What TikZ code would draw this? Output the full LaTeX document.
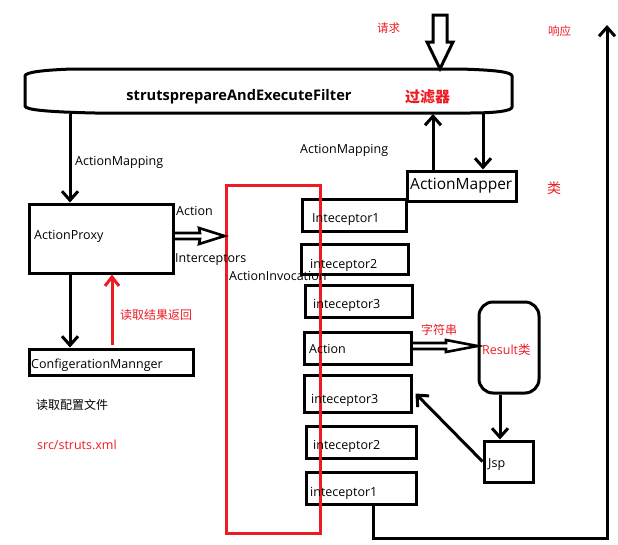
\documentclass[tikz,border=0pt]{standalone}
\usepackage{fontspec}
\setmainfont{Open Sans}
\newfontfamily\cjk{Noto Sans CJK SC}
\usetikzlibrary{arrows.meta}
\definecolor{pred}{HTML}{ED1C24}
\tikzset{
  box/.style={draw, line width=3pt, inner sep=0pt},
  lbl/.style={anchor=west, inner sep=0pt, font=\fontsize{12.5}{14}\selectfont},
  rlbl/.style={lbl, text=pred},
  arr/.style={line width=3pt, -{Straight Barb[length=9pt,width=16pt]}},
  redarr/.style={line width=3pt, draw=pred, -{Straight Barb[length=9pt,width=14pt]}},
  hol/.style={line width=2.6pt, line join=miter}
}
\begin{document}
\begin{tikzpicture}[x=1pt,y=-1pt]
\useasboundingbox (0,0) rectangle (618,544);
% filter
\node[inner sep=0pt, minimum width=487, minimum height=44] (filter) at (268.5,91) {};
\draw[line width=3pt] (72,69) -- (460,69) .. controls (495,70) and (512,72) .. (512,76) -- (512,107)
  .. controls (512,111) and (495,113) .. (470,113) -- (95,113)
  .. controls (50,112) and (25,110) .. (25,106) -- (25,76)
  .. controls (25,72) and (45,70) .. (72,69) -- cycle;
\coordinate (fb1) at (70,114);
\coordinate (fb3) at (433,114);
\coordinate (fb4) at (483,114);
% boxes
\node[box, minimum width=144, minimum height=69] (proxy) at (101,238.5) {};
\node[box, minimum width=109, minimum height=30] (mapper) at (461.5,186) {};
\node[box, minimum width=164, minimum height=26] (conf) at (111,362) {};
\node[box, minimum width=104, minimum height=32] (i1a) at (354,215) {};
\node[box, minimum width=107, minimum height=30] (i2a) at (354.5,259) {};
\node[box, minimum width=107, minimum height=32] (i3a) at (358.5,301) {};
\node[box, minimum width=107, minimum height=32] (act) at (357.5,348) {};
\node[box, minimum width=107, minimum height=37] (i3b) at (357.5,393.5) {};
\node[box, minimum width=110, minimum height=32] (i2b) at (361,442) {};
\node[box, minimum width=110, minimum height=32] (i1b) at (361,488) {};
\node[box, rounded corners=14pt, minimum width=60, minimum height=91] (result) at (509,347.5) {};
\node[box, minimum width=49, minimum height=41] (jsp) at (508.5,461.5) {};
\node[draw=pred, line width=3pt, inner sep=0pt, minimum width=94, minimum height=348] (invoc) at (273,359) {};
% request arrow
\coordinate (req) at (440,15);
\draw[hol, line width=3pt] (433,15) -- (447,15) -- (447,42) -- (453,42) -- (filter.north -| req) -- (427,42) -- (433,42) -- cycle;
% connectors
\draw[arr] (fb1) -- (fb1 |- proxy.north);
\draw[arr] (fb1 |- proxy.south) -- (fb1 |- conf.north);
\coordinate (r0) at (112,345);
\draw[redarr] (r0) -- (r0 |- proxy.south);
\draw[arr] (fb3 |- mapper.north) -- (fb3);
\draw[arr] (fb4) -- (fb4 |- mapper.north);
\draw[hol] (173,233) -- (200,233) -- (199,228) -- (invoc.west |- 0,236) -- (199,244) -- (200,239) -- (173,239);
\draw[hol] (412,343) -- (446,343) -- (446,340) -- (result.west |- 0,346) -- (446,352) -- (446,349) -- (412,349);
\draw[arr] ([xshift=-9pt]result.south) -- ([xshift=-8.5pt]jsp.north);
\draw[arr] (jsp.west) -- ([xshift=3pt]i3b.east);
\coordinate (resp) at (607,25);
\coordinate (rb) at (607,538);
\draw[arr] ([xshift=12pt]i1b.south) |- (rb) -- (resp);
% texts
\node[anchor=center, inner sep=0pt, font=\fontsize{14.6}{16}\selectfont\bfseries] (ftxt) at (239,97) {strutsprepareAndExecuteFilter};
\node[rlbl, font=\fontsize{15}{17}\selectfont\cjk\bfseries] (fcn) at (405,97) {过滤器};
\node[rlbl, font=\fontsize{11.5}{14}\selectfont\cjk] (reqt) at (377,28) {请求};
\node[rlbl, font=\fontsize{11.5}{14}\selectfont\cjk] (respt) at (548,31) {响应};
\node[lbl] (am1) at (75,162) {ActionMapping};
\node[lbl] (am2) at (300,150) {ActionMapping};
\node[lbl, font=\fontsize{15.5}{17}\selectfont] (mt) at (410,186) {ActionMapper};
\node[rlbl, font=\fontsize{14}{16}\selectfont\cjk] (lei) at (547,188) {类};
\node[lbl] (pt) at (34,236) {ActionProxy};
\node[lbl] (at1) at (176,211) {Action};
\node[lbl] (itc) at (175,260) {Interceptors};
\node[lbl] (ait) at (229,276) {ActionInvocation};
\node[lbl] (ct) at (31,365) {ConfigerationMannger};
\node[lbl, font=\fontsize{12}{14}\selectfont\cjk] (rd) at (36,405) {读取配置文件};
\node[rlbl] (src) at (37,445) {src/struts.xml};
\node[rlbl, font=\fontsize{12}{14}\selectfont\cjk] (rr) at (120,315) {读取结果返回};
\node[lbl] (t1) at (312,220) {Inteceptor1};
\node[lbl] (t2) at (310,265) {inteceptor2};
\node[lbl] (t3) at (313,305) {inteceptor3};
\node[lbl] (t4) at (309,349) {Action};
\node[lbl] (t5) at (311,400) {inteceptor3};
\node[lbl] (t6) at (313,446) {inteceptor2};
\node[lbl] (t7) at (310,493) {inteceptor1};
\node[rlbl, font=\fontsize{12}{14}\selectfont\cjk] (zf) at (421,330) {字符串};
\node[rlbl] (rt) at (482,350) {Result{\cjk 类}};
\node[lbl] (jt) at (488,465) {Jsp};
\end{tikzpicture}
\end{document}
